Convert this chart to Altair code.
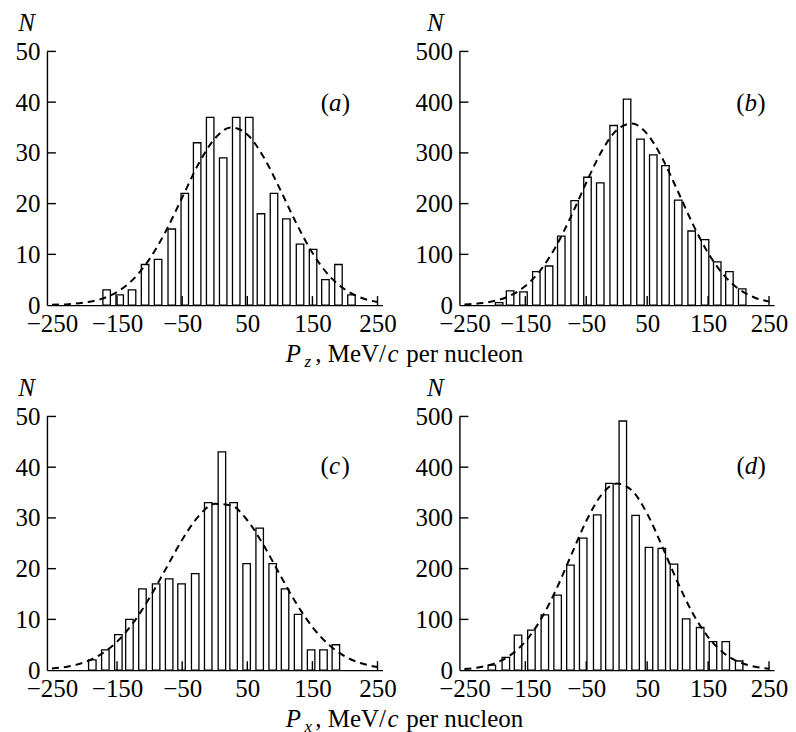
import altair as alt
import pandas as pd

# ---------------- data ----------------
# panel (a): P_z, light sample
a_x = [-166, -146, -127, -107, -87, -66, -46, -27, -7, 13, 33, 53, 71, 91, 110, 131, 151, 170, 190, 210]
a_n = [3, 2, 3, 8, 9, 15, 22, 32, 37, 29, 37, 37, 18, 22, 17, 12, 11, 5, 8, 2]
# panel (b): P_z, large sample
b_x = [-193, -175, -153, -132, -111, -91, -69, -48, -27, -5, 17, 39, 60, 80, 101, 123, 145, 165, 185, 206]
b_n = [5, 28, 26, 66, 77, 136, 206, 252, 241, 354, 406, 327, 296, 275, 207, 146, 129, 85, 66, 32]
# panel (c): P_x, light sample
c_x = [-188, -168, -148, -131, -111, -90, -70, -51, -30, -10, 11, 29, 49, 69, 89, 108, 128, 148, 167, 186]
c_n = [2, 4, 7, 10, 16, 17, 18, 17, 19, 33, 43, 33, 21, 28, 21, 16, 11, 4, 4, 5]
# panel (d): P_x, large sample
d_x = [-205, -182, -162, -140, -118, -97, -76, -55, -32, -12, 10, 31, 53, 74, 94, 114, 137, 158, 179, 201]
d_n = [10, 25, 69, 79, 109, 148, 207, 260, 306, 368, 491, 305, 242, 240, 209, 101, 84, 56, 56, 18]

# dashed fitted curves, read at every 25 MeV/c
curve_x = [-250, -225, -200, -175, -150, -125, -100, -75, -50, -25, 0,
           25, 50, 75, 100, 125, 150, 175, 200, 225, 250]
a_curve = [0.06, 0.18, 0.49, 1.18, 2.59, 5.11, 9.11, 14.6, 21.2, 27.8, 32.8,
           35.0, 33.6, 29.2, 22.9, 16.2, 10.3, 5.9, 3.08, 1.44, 0.61]
b_curve = [1.27, 3.4, 8.4, 18.6, 37.6, 69.0, 115.2, 174.8, 241.2, 302.5, 345.0,
           357.8, 337.2, 289.0, 225.2, 159.5, 102.7, 60.1, 32.0, 15.5, 6.8]
c_curve = [0.31, 0.72, 1.56, 3.09, 5.62, 9.35, 14.28, 20.0, 25.7, 30.3, 32.77,
           32.49, 29.54, 24.63, 18.84, 13.21, 8.50, 5.02, 2.71, 1.35, 0.61]
d_curve = [2.18, 5.7, 13.5, 29.1, 56.4, 99.0, 157.3, 226.0, 293.8, 345.6, 367.7,
           354.0, 308.3, 242.9, 173.2, 111.7, 65.2, 34.4, 16.4, 7.1, 2.77]

x_ticks = [-250, -150, -50, 50, 150, 250]
y_ticks_small = [0, 10, 20, 30, 40, 50]
y_ticks_large = [0, 100, 200, 300, 400, 500]

SERIF = "'Liberation Serif', 'Times New Roman', 'DejaVu Serif', serif"
FS = 25
H = 254


def txt(s, x, y, size=FS, italic=False, align="left", baseline="alphabetic"):
    kw = dict(text=s, font=SERIF, fontSize=size, color="black", align=align, baseline=baseline)
    if italic:
        kw["fontStyle"] = "italic"
    return alt.Chart(pd.DataFrame({"k": [0]})).mark_text(**kw).encode(
        x=alt.value(x), y=alt.value(y))


def panel(xs, ns, cy, yticks, width, letter, lx, ly, nx, title_sub=None):
    ymax = yticks[-1]
    xsc = alt.Scale(domain=[-250, 250], nice=False, zero=False)
    ysc = alt.Scale(domain=[0, ymax], nice=False, zero=True)
    xax = alt.Axis(values=x_ticks, title=None, ticks=False, tickSize=0, labelPadding=6.5,
                   labelFont=SERIF, labelFontSize=FS, labelColor="black", grid=False,
                   domainColor="black", domainWidth=1.4, labelFlush=False, labelOverlap=False)
    yax = alt.Axis(values=yticks, title=None, ticks=False, tickSize=0, labelPadding=7,
                   labelFont=SERIF, labelFontSize=FS, labelColor="black", grid=False,
                   domainColor="black", domainWidth=1.4, labelFlush=False, labelOverlap=False)
    X = alt.X("p:Q", scale=xsc, axis=xax)
    Y = alt.Y("n:Q", scale=ysc, axis=yax)

    bars = alt.Chart(pd.DataFrame({"p": xs, "n": ns})).mark_bar(
        fill="white", stroke="black", strokeWidth=1.3, size=7.5
    ).encode(x=X, y=Y)
    line = alt.Chart(pd.DataFrame({"p": curve_x, "n": cy})).mark_line(
        color="black", strokeDash=[7, 5], strokeWidth=2.0, interpolate="monotone"
    ).encode(x=X, y=Y)
    ytk = alt.Chart(pd.DataFrame({"n": yticks[1:]})).mark_rule(
        color="black", strokeWidth=1.4
    ).encode(y=Y, x=alt.value(0), x2=alt.value(9))
    xtk = alt.Chart(pd.DataFrame({"p": x_ticks[1:]})).mark_rule(
        color="black", strokeWidth=1.4
    ).encode(x=X, y=alt.value(H), y2=alt.value(H - 9))

    layers = [bars, line, ytk, xtk,
              txt("N", nx, -28.5, italic=True, align="center", baseline="middle"),
              txt("(", lx, ly), txt(letter, lx + 8.3, ly, italic=True), txt(")", lx + 21, ly)]
    if title_sub is not None:
        tb = 310.5
        layers += [
            txt("P", 239, tb, italic=True),
            txt(title_sub, 258, tb + 5, size=17, italic=True),
            txt(", MeV/", 268.7, tb),
            txt("c", 341, tb, italic=True),
            txt("per nucleon", 359.7, tb),
        ]
    return alt.layer(*layers).properties(width=width, height=H)


pa = panel(a_x, a_n, a_curve, y_ticks_small, 336, "a", 274.2, 60, -20.5, "z")
pb = panel(b_x, b_n, b_curve, y_ticks_large, 315, "b", 277.2, 60, -24)
pc = panel(c_x, c_n, c_curve, y_ticks_small, 336, "c", 274.0, 58, -20.5, "x")
pd_ = panel(d_x, d_n, d_curve, y_ticks_large, 315, "d", 277.5, 58, -24)

chart = alt.concat(
    pa, pb, pc, pd_, columns=2, bounds="flush",
    spacing={"row": 111.5, "column": 77}
).properties(
    padding={"left": 7, "top": 2, "right": 0, "bottom": 0},
    background="white"
).configure_view(stroke=None)

chart.save("out.html", embed_options={"renderer": "svg", "actions": False})
